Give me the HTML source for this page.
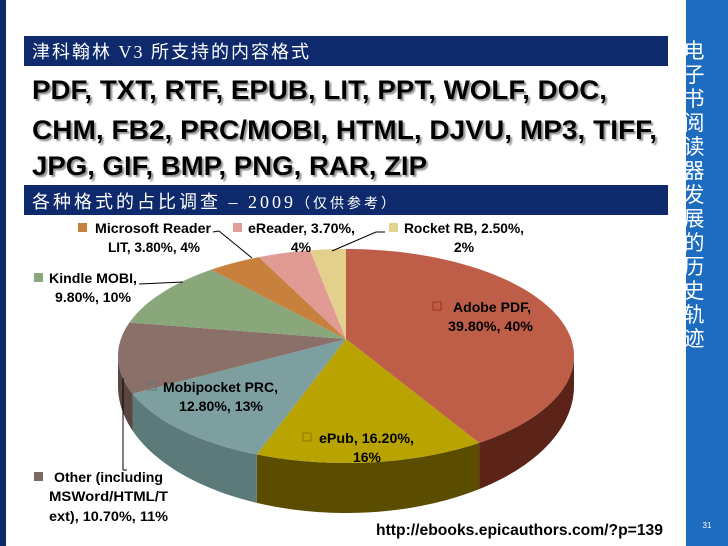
<!DOCTYPE html>
<html><head><meta charset="utf-8"><style>
html,body{margin:0;padding:0;width:728px;height:546px;overflow:hidden;background:#fff}
svg{display:block}
</style></head><body>
<svg id="slide" width="728" height="546" viewBox="0 0 728 546" xmlns="http://www.w3.org/2000/svg">
<defs>
<filter id="sh" x="-5%" y="-5%" width="110%" height="120%"><feDropShadow dx="2" dy="2" stdDeviation="0.8" flood-color="#888" flood-opacity="0.9"/></filter>
</defs>
<rect x="0" y="0" width="6" height="546" fill="#0d2a6a"/>
<rect x="686" y="0" width="42" height="546" fill="#1d6cc0"/>
<g id="vt" fill="#fff" font-family="'Noto Sans CJK SC',sans-serif" font-size="21" text-anchor="middle"></g>
<text x="707" y="528" fill="#fff" font-size="8" font-family="'Liberation Sans',sans-serif" text-anchor="middle">31</text>

<rect x="24" y="36" width="644" height="30" fill="#0e2a6c"/>
<text x="32" y="58" fill="#fff" font-size="18" font-family="'Liberation Serif','Noto Sans CJK SC',serif" letter-spacing="2">津科翰林 V3 所支持的内容格式</text>

<g font-family="'Liberation Sans',sans-serif" font-weight="bold" font-size="27" fill="#000" filter="url(#sh)">
<text x="32" y="99" textLength="575" lengthAdjust="spacingAndGlyphs">PDF, TXT, RTF, EPUB, LIT, PPT, WOLF, DOC,</text>
<text x="32" y="139" textLength="625" lengthAdjust="spacingAndGlyphs">CHM, FB2, PRC/MOBI, HTML, DJVU, MP3, TIFF,</text>
<text x="32" y="175" textLength="395" lengthAdjust="spacingAndGlyphs">JPG, GIF, BMP, PNG, RAR, ZIP</text>
</g>

<rect x="24" y="185" width="644" height="30" fill="#0e2a6c"/>
<text x="32" y="208" fill="#fff" font-size="18" font-family="'Liberation Serif','Noto Sans CJK SC',serif" letter-spacing="3">各种格式的占比调查 – 2009<tspan font-size="14">（仅供参考）</tspan></text>

<g id="pie"></g>

<g font-family="'Liberation Sans',sans-serif" font-weight="bold" font-size="14" fill="#000">
<g stroke="#000" stroke-width="1" fill="none">
<polyline points="213,232 219,231 252,258"/>
<polyline points="385,232 376,232 332,251"/>
<polyline points="139,284 183,282"/>
<polyline points="127,470 123,470 123,378"/>
</g>
<rect x="78" y="223" width="9" height="9" fill="#c88040"/>
<text x="95" y="233" textLength="116" lengthAdjust="spacingAndGlyphs">Microsoft Reader</text>
<text x="108" y="252" textLength="92" lengthAdjust="spacingAndGlyphs">LIT, 3.80%, 4%</text>
<rect x="233" y="223" width="9" height="9" fill="#e0a098"/>
<text x="248" y="233" textLength="107" lengthAdjust="spacingAndGlyphs">eReader, 3.70%,</text>
<text x="301" y="252" text-anchor="middle">4%</text>
<rect x="389" y="223" width="9" height="9" fill="#e0d48e"/>
<text x="404" y="233" textLength="120" lengthAdjust="spacingAndGlyphs">Rocket RB, 2.50%,</text>
<text x="464" y="252" text-anchor="middle">2%</text>
<rect x="34" y="273" width="9" height="9" fill="#8aa87c"/>
<text x="49" y="283" textLength="88" lengthAdjust="spacingAndGlyphs">Kindle MOBI,</text>
<text x="55" y="302" textLength="76" lengthAdjust="spacingAndGlyphs">9.80%, 10%</text>
<rect x="433" y="302" width="8" height="8" fill="none" stroke="#a03020"/>
<text x="453" y="312" textLength="78" lengthAdjust="spacingAndGlyphs">Adobe PDF,</text>
<text x="448" y="331" textLength="85" lengthAdjust="spacingAndGlyphs">39.80%, 40%</text>
<rect x="148" y="382" width="8" height="8" fill="none" stroke="#5a7878"/>
<text x="163" y="392" textLength="115" lengthAdjust="spacingAndGlyphs">Mobipocket PRC,</text>
<text x="179" y="411" textLength="84" lengthAdjust="spacingAndGlyphs">12.80%, 13%</text>
<rect x="303" y="433" width="8" height="8" fill="none" stroke="#8a7a00"/>
<text x="319" y="443" textLength="95" lengthAdjust="spacingAndGlyphs">ePub, 16.20%,</text>
<text x="353" y="462" textLength="28" lengthAdjust="spacingAndGlyphs">16%</text>
<rect x="34" y="472" width="9" height="9" fill="#7a6a62"/>
<text x="54" y="482" textLength="109" lengthAdjust="spacingAndGlyphs">Other (including</text>
<text x="49" y="501" textLength="119" lengthAdjust="spacingAndGlyphs">MSWord/HTML/T</text>
<text x="49" y="521" textLength="119" lengthAdjust="spacingAndGlyphs">ext), 10.70%, 11%</text>
<text x="376" y="535" font-size="16" textLength="287" lengthAdjust="spacingAndGlyphs">http://ebooks.epicauthors.com/?p=139</text>
</g>
</svg>
<script>
const categories = ["Adobe PDF","ePub","Mobipocket PRC","Other","Kindle MOBI","Microsoft Reader LIT","eReader","Rocket RB"];
const values = [39.8,16.2,12.8,10.7,9.8,3.8,3.7,2.5];
const topColors = ["#bf5e48","#b8a300","#7e9fa0","#8a7068","#89a77b","#c8803f","#e09c94","#e2d08c"];
const sideColors = ["#5c2418","#5a4d00","#5d7a7a","#5a4640","#5a7050","#7a4c20","#9a6a64","#9a8c5c"];
const sideChars = "电子书阅读器发展的历史轨迹";

const NS="http://www.w3.org/2000/svg";
const vt=document.getElementById('vt');
for(let i=0;i<sideChars.length;i++){
  const t=document.createElementNS(NS,'text');
  t.setAttribute('x',694);t.setAttribute('y',58+24*i);
  t.textContent=sideChars[i];
  vt.appendChild(t);
}
const cx=346, cy=356, rx=228, ry=107, depth=50, ax=346, ay=339;
const total=values.reduce((a,b)=>a+b,0);
function px(t){return cx+rx*Math.sin(t);}
function py(t){return cy-ry*Math.cos(t);}
function angle(v){return v/total*2*Math.PI;}
const pie=document.getElementById('pie');
let a=0;
const slices=values.map(v=>{const s=a;a+=angle(v);return [s,a];});
slices.forEach(([s,e],i)=>{
  const lo=Math.max(s,Math.PI/2), hi=Math.min(e,1.5*Math.PI);
  if(hi<=lo) return;
  let d=`M${px(lo)},${py(lo)}`;
  const n=40;
  for(let k=1;k<=n;k++){const t=lo+(hi-lo)*k/n;d+=`L${px(t)},${py(t)}`;}
  for(let k=n;k>=0;k--){const t=lo+(hi-lo)*k/n;d+=`L${px(t)},${py(t)+depth*(0.6+0.4*Math.max(0,-Math.cos(t)))}`;}
  d+='Z';
  const p=document.createElementNS(NS,'path');
  p.setAttribute('d',d);p.setAttribute('fill',sideColors[i]);
  
  
  pie.appendChild(p);
});
slices.forEach(([s,e],i)=>{
  let d=`M${ax},${ay}`;
  const n=Math.max(4,Math.ceil((e-s)*40));
  for(let k=0;k<=n;k++){const t=s+(e-s)*k/n;d+=`L${px(t)},${py(t)}`;}
  d+='Z';
  const p=document.createElementNS(NS,'path');
  p.setAttribute('d',d);p.setAttribute('fill',topColors[i]);
  
  
  pie.appendChild(p);
});
</script>
</body></html>
